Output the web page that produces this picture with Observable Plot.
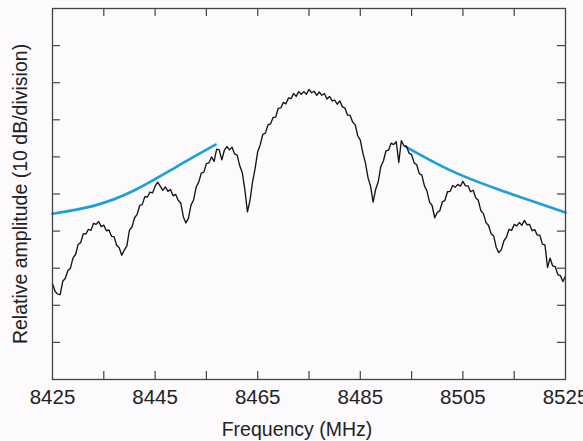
<!DOCTYPE html>
<html><head><meta charset="utf-8">
<script src="https://cdn.jsdelivr.net/npm/d3@7"></script>
<script src="https://cdn.jsdelivr.net/npm/@observablehq/plot@0.6"></script>
<style>
html,body{margin:0;padding:0;background:#fcfafc;}
</style></head><body><div id="chart"></div>
<script>
// Measured spectrum: sample grid start / step (MHz) and level (dB, relative)
const freqStart = 8425;
const freqStep = 0.5;
const traceDb = [
-74.2,-76.2,-77.0,-77.1,-73.5,-72.7,-70.6,-70.0,-67.2,-66.3,
-63.6,-63.1,-60.7,-60.8,-59.5,-59.8,-57.9,-58.2,-57.4,-58.8,
-58.4,-59.9,-59.7,-61.4,-61.5,-63.8,-64.5,-66.5,-65.1,-64.0,
-59.7,-58.9,-56.4,-55.5,-53.1,-52.8,-50.7,-50.8,-49.5,-49.7,
-47.9,-46.8,-47.9,-49.0,-48.1,-49.3,-48.8,-50.5,-50.1,-51.7,
-52.4,-56.1,-57.8,-56.5,-53.0,-51.6,-48.2,-46.8,-44.4,-44.1,
-41.8,-41.6,-40.0,-41.2,-37.9,-38.1,-40.8,-38.2,-37.2,-38.1,
-37.4,-39.2,-39.5,-42.4,-44.3,-48.9,-54.8,-51.7,-46.7,-43.1,
-38.6,-36.7,-33.9,-33.6,-31.4,-31.1,-29.4,-29.3,-26.9,-26.8,
-25.3,-25.7,-24.1,-24.3,-22.9,-23.7,-22.4,-23.1,-22.4,-23.1,
-21.8,-22.7,-22.3,-23.4,-22.5,-23.4,-22.9,-24.4,-23.7,-24.9,
-24.7,-25.8,-24.9,-26.5,-26.8,-28.7,-28.8,-30.6,-31.3,-34.3,
-35.5,-39.0,-41.6,-45.6,-47.9,-52.2,-48.7,-46.7,-42.6,-41.1,
-38.4,-38.2,-36.3,-36.7,-35.9,-41.5,-35.6,-37.0,-37.1,-39.0,
-39.4,-41.6,-42.1,-44.5,-44.9,-47.8,-49.2,-52.2,-53.1,-56.4,
-55.0,-54.5,-52.1,-51.7,-49.4,-49.3,-47.7,-48.2,-47.4,-47.9,
-46.6,-47.8,-47.8,-49.4,-49.0,-51.0,-51.7,-54.5,-55.3,-57.7,
-58.5,-60.7,-61.3,-64.4,-65.8,-65.0,-62.6,-61.6,-59.5,-59.8,
-58.2,-58.6,-57.7,-58.4,-57.1,-58.3,-58.2,-59.9,-59.6,-61.1,
-61.1,-63.5,-63.7,-69.8,-67.3,-69.4,-69.6,-71.7,-72.0,-73.6,
-72.1
];

// Envelope curves (blue)
const leftEnvFreq = [8425, 8433, 8441, 8449, 8456.8];
const leftEnvDb   = [-55.3, -53.2, -49.0, -42.8, -36.7];
const rightEnvFreq = [8493.8, 8503, 8513, 8525];
const rightEnvDb   = [-37.2, -43.9, -49.3, -55.0];

// Axes
const xMinorTicks = [8435, 8445, 8455, 8465, 8475, 8485, 8495, 8505, 8515];
const xTickLabels = [8425, 8445, 8465, 8485, 8505, 8525];
const yTicks = [-10, -20, -30, -40, -50, -60, -70, -80, -90];
const xTitle = "Frequency (MHz)";
const yTitle = "Relative amplitude (10 dB/division)";

const trace = traceDb.map((v, i) => ({f: freqStart + i * freqStep, db: v}));
const leftEnv = leftEnvFreq.map((f, i) => ({f, db: leftEnvDb[i]}));
const rightEnv = rightEnvFreq.map((f, i) => ({f, db: rightEnvDb[i]}));

const axisColor = "#444";
const chart = Plot.plot({
  width: 583,
  height: 441,
  marginLeft: 52,
  marginRight: 18,
  marginTop: 8,
  marginBottom: 62,
  style: {background: "#fcfafc", fontFamily: "'Liberation Sans', Arial, Helvetica, sans-serif", fontSize: "20.5px", color: "#222"},
  x: {domain: [8425, 8525], ticks: xTickLabels, tickSize: 0, tickPadding: 10, tickFormat: d => String(d), label: null},
  y: {domain: [-100, 0], axis: null},
  marks: [
    Plot.ruleX(xMinorTicks, {x: d => d, insetTop: 363, stroke: axisColor, strokeWidth: 1.2}),
    Plot.ruleX(xMinorTicks, {x: d => d, insetBottom: 363, stroke: axisColor, strokeWidth: 1.2}),
    Plot.ruleY(yTicks, {y: d => d, insetRight: 505, stroke: axisColor, strokeWidth: 1.2}),
    Plot.ruleY(yTicks, {y: d => d, insetLeft: 505, stroke: axisColor, strokeWidth: 1.2}),
    Plot.line(leftEnv, {x: "f", y: "db", stroke: "#1a9fd9", strokeWidth: 2.6, curve: "natural"}),
    Plot.line(rightEnv, {x: "f", y: "db", stroke: "#1a9fd9", strokeWidth: 2.6, curve: "natural"}),
    Plot.line(trace, {x: "f", y: "db", stroke: "#151515", strokeWidth: 1.35}),
    Plot.frame({stroke: axisColor, strokeWidth: 1.3}),
    Plot.text([xTitle], {text: d => d, frameAnchor: "bottom", lineAnchor: "middle", textAnchor: "middle", dy: 50, dx: -12, fontSize: 19.5, fill: "#222"}),
    Plot.text([yTitle], {text: d => d, frameAnchor: "left", lineAnchor: "middle", textAnchor: "middle", dx: -32, rotate: -90, fontSize: 19.5, fill: "#222"})
  ]
});
document.getElementById("chart").appendChild(chart);
</script>
</body></html>
